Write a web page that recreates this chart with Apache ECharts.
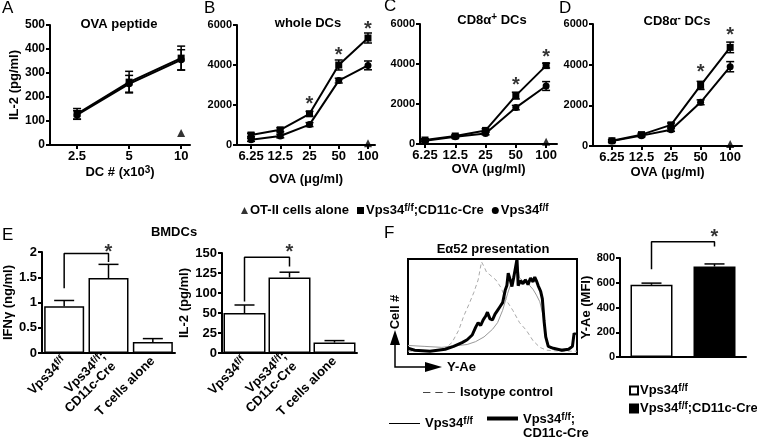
<!DOCTYPE html>
<html><head><meta charset="utf-8">
<script src="https://cdn.jsdelivr.net/npm/echarts@6/dist/echarts.min.js"></script>
<style>html,body{margin:0;padding:0;background:#fff}#c{width:757px;height:438px}</style>
</head><body><div id="c"></div>
<script>
// ---------- data ----------
const dcLabels = ['2.5', '5', '10'];
const ovaLabels = ['6.25', '12.5', '25', '50', '100'];
const aCre = [130, 262, 362];     const aCreErr = [22, 45, 50];
const aWT  = [125, 255, 355];     const aWTErr  = [18, 35, 42];
const aOT  = [[2, 50]];
const bCre = [500, 760, 1560, 4000, 5350];  const bCreErr = [90, 100, 120, 250, 250];
const bWT  = [260, 450, 1020, 3220, 3980];  const bWTErr  = [80, 90, 100, 120, 220];
const bOT  = [[4, 90]];
const bStars = [[2, 2250], [3, 4670], [4, 6000]];
const cCre = [200, 400, 680, 2420, 3920];   const cCreErr = [60, 70, 80, 170, 120];
const cWT  = [160, 360, 530, 1820, 2900];   const cWTErr  = [50, 60, 70, 110, 220];
const cOT  = [[4, 110]];
const cStars = [[3, 3120], [4, 4530]];
const dCre = [260, 560, 1040, 2980, 4850];  const dCreErr = [60, 70, 90, 200, 260];
const dWT  = [240, 510, 800, 2150, 3900];   const dWTErr  = [50, 60, 80, 120, 250];
const dOT  = [[4, 100]];
const dStars = [[3, 3820], [4, 5620]];

const eCats = ['Vps34f/f', 'Vps34f/f;\nCD11c-Cre', 'T cells alone'];
const eIfn = [0.925, 1.485, 0.22];  const eIfnErr = [0.115, 0.27, 0.065];
const eIfnBracket = [[0, 1.28], [0, 1.97], [1, 1.97], [1, 1.80]];
const eIfnStar = [[0.5, 2.07]];
const eIl2Ticks = [0, 25, 50, 100, 125, 150];
const eIl2 = [50, 119.5, 13];  const eIl2Err = [20, 6.5, 2.5];
const eIl2Bracket = [[0, 78.6], [0, 144.6], [1, 144.6], [1, 133]];
const eIl2Star = [[0.5, 156]];

const histIso = [[0,3],[10,3],[17,4],[22,6],[26,12],[30,25],[33,40],[36,52],[39,65],[41.5,78],[43.5,97],[45,92],[46.5,86],[48,84],[50,81],[52,78],[55,70],[58,57],[62,46],[66,33],[70,25],[74,14],[78,7],[82,4],[90,3],[100,3]];
const histWT = [[0,9],[10,8],[20,7],[30,9],[35,10],[40,13],[45,18],[50,26],[53,33],[56,46],[59,64],[62,80],[64.5,97],[66,80],[68,77],[70,79],[72,72],[74,68],[76,62],[78,55],[80,40],[82,15],[84,6],[90,5],[97,6]];
const histCre = [[0,6],[4,4],[13,3],[22,5],[27,8],[32,12],[35,15],[38,20],[40,28],[41.5,33],[43,30],[44.5,36],[46,40],[47,44],[48.5,37],[50,36],[51.5,42],[53,46],[54.5,50],[56,54],[57.5,67],[58.5,72],[59.3,85],[60.5,78],[61.5,71],[62.5,80],[63.3,88],[64.5,100],[65.2,72],[66.5,77],[68,74],[69.5,78],[71,73],[72.5,80],[74,76],[75,81],[76,77],[77,72],[78.5,66],[79.5,58],[80.5,35],[81.5,18],[83,8],[86,6],[91,4],[95,5],[97.3,8],[98.3,22],[99,20]];

const fCats = ['Vps34f/f', 'Vps34f/f;CD11c-Cre'];
const fMfi = [583, 731];  const fMfiErr = [14, 21];
const fBracket = [[0, 710], [0, 932], [1, 932], [1, 892]];
const fStar = [[0.5, 1002]];

// ---------- helpers ----------
const FF = 'Liberation Sans, Arial, sans-serif';
const BLK = '#000';
const sup = s => s.split('\n').map(l => '{n|' + l.split('f/f').join('}{s|f/f}{n|') + '}').join('\n');
const richN = (size) => ({
  n: {fontFamily: FF, fontWeight: 'bold', fontSize: size, color: BLK},
  s: {fontFamily: FF, fontWeight: 'bold', fontSize: Math.round(size * 0.75), color: BLK, verticalAlign: 'top', padding: [0, 0, 5, 0]}
});
const pts = arr => arr.map((v, i) => [i, v]);
const toE2 = v => {
  for (let i = 0; i < eIl2Ticks.length - 1; i++) {
    if (v <= eIl2Ticks[i + 1] || i === eIl2Ticks.length - 2) {
      return i + (v - eIl2Ticks[i]) / (eIl2Ticks[i + 1] - eIl2Ticks[i]);
    }
  }
};

function errRender(cap, upperOnly) {
  return function (params, api) {
    const x = api.value(0), y = api.value(1), e = api.value(2);
    const top = api.coord([x, api.value(3)]);
    const bot = api.coord([x, upperOnly ? y : y - e]);
    const st = {stroke: BLK, lineWidth: 1.5};
    const ch = [
      {type: 'line', shape: {x1: top[0], y1: top[1], x2: bot[0], y2: bot[1]}, style: st},
      {type: 'line', shape: {x1: top[0] - cap, y1: top[1], x2: top[0] + cap, y2: top[1]}, style: st}
    ];
    if (!upperOnly) ch.push({type: 'line', shape: {x1: bot[0] - cap, y1: bot[1], x2: bot[0] + cap, y2: bot[1]}, style: st});
    return {type: 'group', children: ch};
  };
}
function errSeries(gi, data, err, cap, upperOnly, tf) {
  tf = tf || (v => v);
  return {type: 'custom', xAxisIndex: gi, yAxisIndex: gi, silent: true, z: 2, clip: false,
    data: data.map((v, i) => upperOnly ? [i, tf(v), 0, tf(v + err[i])] : [i, v, err[i], v + err[i]]),
    renderItem: errRender(cap, upperOnly)};
}
function lineSeries(name, gi, data, symbol, size) {
  return {type: 'line', name, xAxisIndex: gi, yAxisIndex: gi, data: pts(data), symbol, symbolSize: size || 7,
    showSymbol: true, lineStyle: {color: BLK, width: 2}, itemStyle: {color: BLK}, z: 3};
}
function otSeries(gi, data) {
  return {type: 'scatter', name: 'OT-II cells alone', xAxisIndex: gi, yAxisIndex: gi, data, symbol: 'triangle',
    symbolSize: 8, itemStyle: {color: BLK}, z: 3};
}
function starSeries(gi, data) {
  return {type: 'scatter', xAxisIndex: gi, yAxisIndex: gi, data, symbolSize: 1, silent: true, clip: false,
    itemStyle: {color: 'rgba(0,0,0,0)'}, z: 5,
    label: {show: true, formatter: '*', position: 'inside', fontSize: 20, fontWeight: 'bold', fontFamily: FF, color: BLK, offset: [0, 4]}};
}
function bracketSeries(gi, data) {
  return {type: 'line', xAxisIndex: gi, yAxisIndex: gi, data, symbol: 'none', clip: false, silent: true, z: 4,
    lineStyle: {color: BLK, width: 1.5}};
}
const axLine = {show: true, onZero: false, lineStyle: {color: BLK, width: 2}};
const axTick = (extra) => Object.assign({show: true, length: 4, lineStyle: {color: BLK, width: 2}}, extra || {});
function xDose(gi, min, max, labels, name, gap) {
  const cv = labels.map((_, i) => i);
  return {gridIndex: gi, type: 'value', min, max, axisLine: axLine, splitLine: {show: false},
    axisTick: axTick({customValues: cv}),
    axisLabel: {customValues: cv, formatter: v => labels[Math.round(v)], fontFamily: FF, fontWeight: 'bold', fontSize: 13, color: BLK, margin: 5},
    name, nameLocation: 'middle', nameGap: gap,
    nameTextStyle: {fontFamily: FF, fontWeight: 'bold', fontSize: 13, color: BLK, rich: richN(13)}};
}
function yVal(gi, min, max, interval, fs, name, gap, fmt) {
  return {gridIndex: gi, type: 'value', min, max, interval, axisLine: axLine, splitLine: {show: false},
    axisTick: axTick(), axisLabel: {fontFamily: FF, fontWeight: 'bold', fontSize: fs, color: BLK, margin: 5, formatter: fmt || (v => String(v))},
    name, nameLocation: 'middle', nameGap: gap,
    nameTextStyle: {fontFamily: FF, fontWeight: 'bold', fontSize: 13, color: BLK}};
}
function xCat(gi, data, showLabels) {
  return {gridIndex: gi, type: 'category', data, axisLine: axLine, axisTick: {show: false},
    axisLabel: {show: showLabels, interval: 0, rotate: 45, margin: 6, formatter: v => sup(v), rich: richN(13)}};
}

// ---------- chart ----------
const chart = echarts.init(document.getElementById('c'));
const txt = (text, x, y, opt) => ({type: 'text', x, y, silent: true,
  style: Object.assign({text, fill: BLK, font: 'bold 13px ' + FF, textAlign: 'center', textVerticalAlign: 'middle', rich: richN(13)}, opt || {})});
const letter = (t, x, y) => txt(t, x, y, {font: '17px ' + FF, textAlign: 'left', textVerticalAlign: 'top'});
const legText = {rich: richN(13)};

const option = {
  animation: false,
  backgroundColor: '#fff',
  grid: [
    {left: 50, top: 25, width: 140, height: 120},
    {left: 237, top: 25, width: 138, height: 120},
    {left: 420, top: 24, width: 137, height: 120},
    {left: 593, top: 24, width: 149, height: 122},
    {left: 42, top: 252, width: 133, height: 101},
    {left: 222, top: 253, width: 135, height: 100},
    {left: 408, top: 259, width: 169, height: 95, show: true, borderColor: BLK, borderWidth: 2},
    {left: 620, top: 258, width: 126, height: 99}
  ],
  xAxis: [
    xDose(0, -0.52, 2.17, dcLabels, 'DC # (x10{s|3})', 20),
    xDose(1, -0.48, 4.24, ovaLabels, 'OVA (μg/ml)', 28),
    xDose(2, -0.165, 4.36, ovaLabels, 'OVA (μg/ml)', 19),
    xDose(3, -0.64, 4.4, ovaLabels, 'OVA (μg/ml)', 20),
    xCat(4, eCats, true),
    xCat(5, eCats, true),
    {gridIndex: 6, type: 'value', min: 0, max: 100, show: false},
    xCat(7, fCats, false)
  ],
  yAxis: [
    yVal(0, 0, 500, 100, 12, 'IL-2 (pg/ml)', 27),
    yVal(1, 0, 6000, 2000, 11),
    yVal(2, 0, 6000, 2000, 11),
    yVal(3, 0, 6000, 2000, 11),
    yVal(4, 0, 2, 0.5, 13, 'IFNγ (ng/ml)', 26),
    yVal(5, 0, eIl2Ticks.length - 1, 1, 13, 'IL-2 (pg/ml)', 30, v => String(eIl2Ticks[Math.round(v)])),
    {gridIndex: 6, type: 'value', min: 0, max: 100, show: false},
    yVal(7, 0, 800, 200, 11, 'Y-Ae (MFI)', 27)
  ],
  legend: [
    {left: 236, top: 198, itemWidth: 7, itemHeight: 7, itemGap: 8, selectedMode: false,
      data: [{name: 'OT-II cells alone', icon: 'triangle'}, {name: 'Vps34f/f;CD11c-Cre', icon: 'rect'}, {name: 'Vps34f/f', icon: 'circle'}],
      formatter: n => sup(n), textStyle: {rich: richN(13), padding: [0, 0, 0, -3]}},
    {left: 418, top: 381, itemWidth: 32, itemHeight: 1.5, selectedMode: false,
      data: [{name: 'hist-iso', icon: 'path://M0,0h6v1h-6zM10,0h6v1h-6zM20,0h6v1h-6z', itemStyle: {color: '#444'}}],
      formatter: () => '{n|Isotype control}', textStyle: legText},
    {left: 384, top: 411, itemWidth: 31, itemHeight: 1, selectedMode: false,
      data: [{name: 'hist-wt', icon: 'rect', itemStyle: {color: BLK}}],
      formatter: () => sup('Vps34f/f'), textStyle: legText},
    {left: 482, top: 407, itemWidth: 31, itemHeight: 4, selectedMode: false,
      data: [{name: 'hist-cre', icon: 'rect', itemStyle: {color: BLK}}],
      formatter: () => sup('Vps34f/f;\nCD11c-Cre'), textStyle: {rich: richN(13), padding: [15, 0, 0, 0]}},
    {left: 624, top: 378, orient: 'vertical', itemWidth: 8, itemHeight: 8, itemGap: 4, selectedMode: false,
      data: [{name: 'bar-wt', icon: 'rect'}, {name: 'bar-cre', icon: 'rect'}],
      formatter: n => sup(n === 'bar-wt' ? fCats[0] : fCats[1]), textStyle: {rich: richN(13), padding: [0, 0, 0, -3]}}
  ],
  series: [
    // A
    errSeries(0, aCre, aCreErr, 4), errSeries(0, aWT, aWTErr, 4),
    lineSeries('Vps34f/f;CD11c-Cre', 0, aCre, 'rect'), lineSeries('Vps34f/f', 0, aWT, 'circle'), otSeries(0, aOT),
    // B
    errSeries(1, bCre, bCreErr, 4), errSeries(1, bWT, bWTErr, 4),
    lineSeries('Vps34f/f;CD11c-Cre', 1, bCre, 'rect'), lineSeries('Vps34f/f', 1, bWT, 'circle'), otSeries(1, bOT), starSeries(1, bStars),
    // C
    errSeries(2, cCre, cCreErr, 4), errSeries(2, cWT, cWTErr, 4),
    lineSeries('Vps34f/f;CD11c-Cre', 2, cCre, 'rect'), lineSeries('Vps34f/f', 2, cWT, 'circle'), otSeries(2, cOT), starSeries(2, cStars),
    // D
    errSeries(3, dCre, dCreErr, 4), errSeries(3, dWT, dWTErr, 4),
    lineSeries('Vps34f/f;CD11c-Cre', 3, dCre, 'rect'), lineSeries('Vps34f/f', 3, dWT, 'circle'), otSeries(3, dOT), starSeries(3, dStars),
    // E IFNg
    {type: 'bar', xAxisIndex: 4, yAxisIndex: 4, data: eIfn, barWidth: 40, itemStyle: {color: '#fff', borderColor: BLK, borderWidth: 1.5}, z: 1},
    errSeries(4, eIfn, eIfnErr, 10, true),
    bracketSeries(4, eIfnBracket), starSeries(4, eIfnStar),
    // E IL-2
    {type: 'bar', xAxisIndex: 5, yAxisIndex: 5, data: eIl2.map(toE2), barWidth: 42, itemStyle: {color: '#fff', borderColor: BLK, borderWidth: 1.5}, z: 1},
    errSeries(5, eIl2, eIl2Err, 10, true, toE2),
    bracketSeries(5, eIl2Bracket.map(d => [d[0], toE2(d[1])])), starSeries(5, eIl2Star.map(d => [d[0], toE2(d[1])])),
    // F histogram
    {type: 'line', name: 'hist-iso', xAxisIndex: 6, yAxisIndex: 6, data: histIso, showSymbol: false, symbol: 'none',
      lineStyle: {color: '#aaa', width: 1, type: [4, 3]}, itemStyle: {color: '#aaa'}, z: 2},
    {type: 'line', name: 'hist-wt', xAxisIndex: 6, yAxisIndex: 6, data: histWT, showSymbol: false, symbol: 'none',
      lineStyle: {color: '#999', width: 1}, itemStyle: {color: '#999'}, z: 3},
    {type: 'line', name: 'hist-cre', xAxisIndex: 6, yAxisIndex: 6, data: histCre, showSymbol: false, symbol: 'none',
      lineStyle: {color: BLK, width: 3}, itemStyle: {color: BLK}, z: 4},
    // F bars
    {type: 'bar', name: 'bar-wt', xAxisIndex: 7, yAxisIndex: 7, data: [fMfi[0], '-'], barWidth: 42, barGap: '-100%',
      itemStyle: {color: '#fff', borderColor: BLK, borderWidth: 1.5}, z: 1},
    {type: 'bar', name: 'bar-cre', xAxisIndex: 7, yAxisIndex: 7, data: ['-', fMfi[1]], barWidth: 42, barGap: '-100%',
      itemStyle: {color: BLK, borderColor: BLK, borderWidth: 1.5}, z: 1},
    errSeries(7, fMfi, fMfiErr, 10, true),
    bracketSeries(7, fBracket), starSeries(7, fStar)
  ],
  graphic: [
    letter('A', 2, 0), letter('B', 204, 0), letter('C', 384, -2), letter('D', 559, 0),
    letter('E', 2, 227), letter('F', 384, 225),
    txt('OVA peptide', 119, 24), txt('whole DCs', 308, 23), txt('CD8α{s|+} DCs', 492, 20), txt('CD8α{s|-} DCs', 677, 21),
    txt('BMDCs', 174, 232), txt('Eα52 presentation', 493, 249),
    {type: 'polyline', silent: true, shape: {points: [[395, 344], [395, 367], [426, 367]]}, style: {stroke: BLK, lineWidth: 1.5, fill: null}},
    {type: 'polygon', silent: true, shape: {points: [[395, 330], [390, 345], [400, 345]]}, style: {fill: BLK}},
    {type: 'polygon', silent: true, shape: {points: [[442, 367], [425, 362], [425, 372]]}, style: {fill: BLK}},
    txt('Y-Ae', 447, 367, {textAlign: 'left'}),
    Object.assign(txt('Cell #', 0, 0), {x: 395, y: 312, rotation: Math.PI / 2})
  ]
};
chart.setOption(option);
</script>
</body></html>
